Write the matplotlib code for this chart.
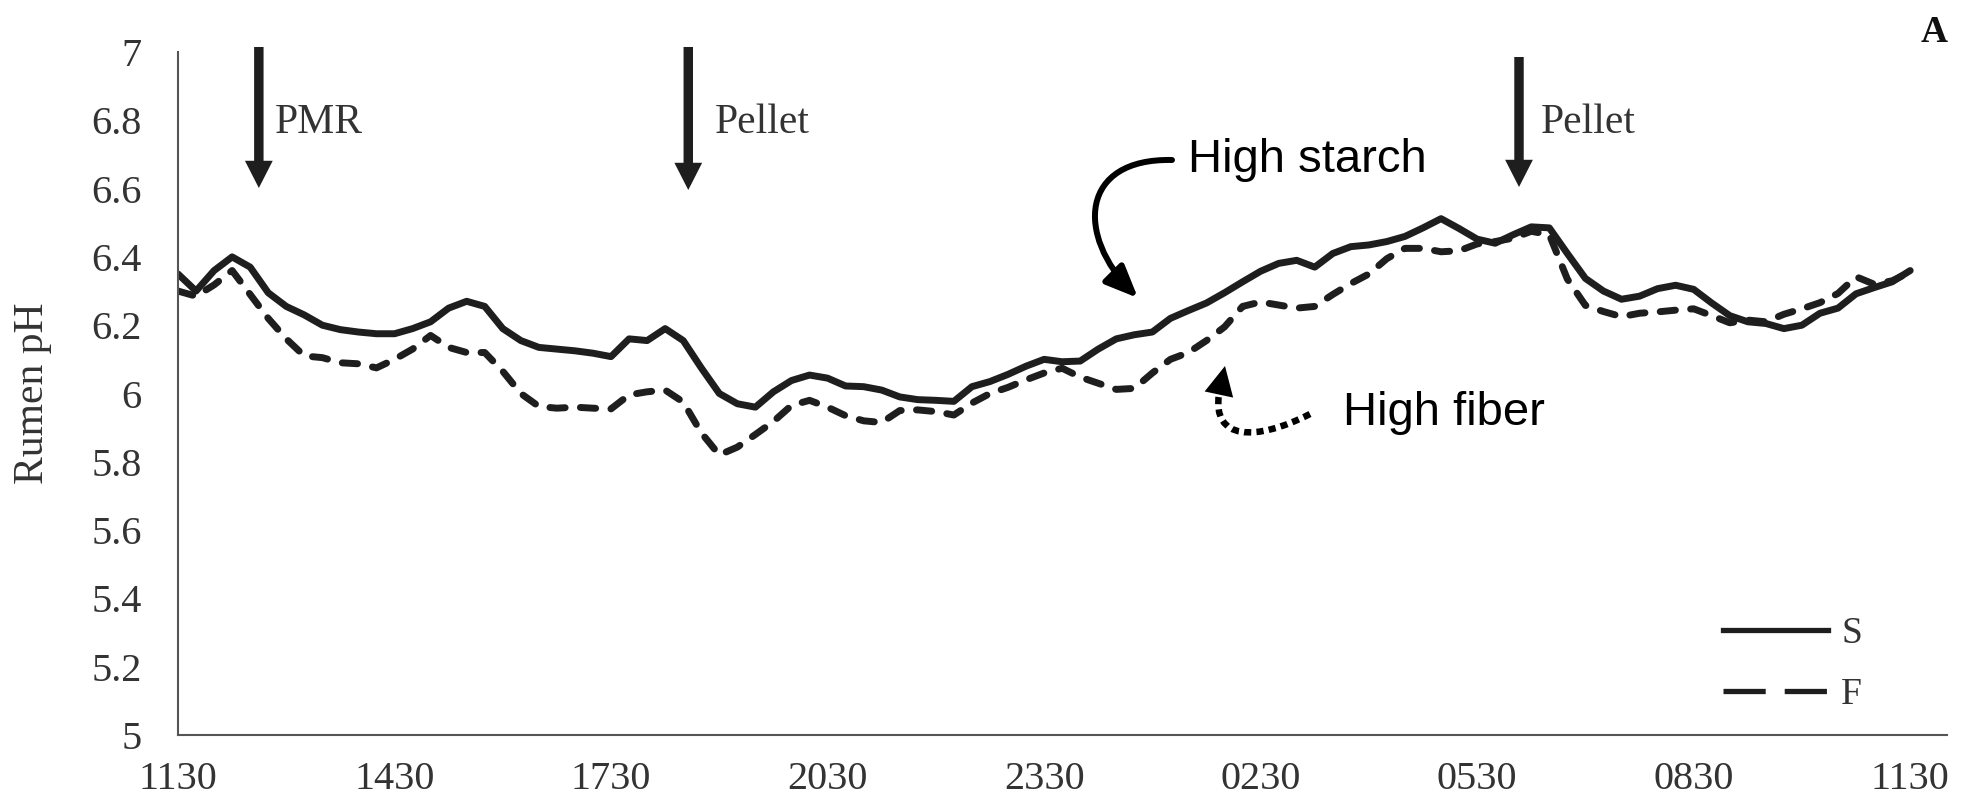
import numpy as np
import matplotlib
matplotlib.use('Agg')
import matplotlib.pyplot as plt
from matplotlib.lines import Line2D
from matplotlib.patches import FancyArrowPatch, PathPatch
from matplotlib.path import Path
from matplotlib.transforms import Affine2D, blended_transform_factory

# ---------------- data (15-min readings, 11:30 -> 11:30) ----------------
time_labels = ["1130", "1430", "1730", "2030", "2330", "0230", "0530", "0830", "1130"]
step_h = 0.25

ph_S = [6.35, 6.30, 6.36, 6.40, 6.37, 6.295, 6.255, 6.23, 6.20, 6.187, 6.18, 6.175, 6.175, 6.19, 6.21, 6.25, 6.27,
        6.255, 6.19, 6.155, 6.135, 6.13, 6.125, 6.118, 6.108, 6.16, 6.155, 6.19, 6.155, 6.075, 6.00, 5.97, 5.96,
        6.005, 6.038, 6.054, 6.045, 6.022, 6.02, 6.01, 5.99, 5.982, 5.98, 5.977, 6.02, 6.035, 6.056, 6.08, 6.10,
        6.093, 6.095, 6.13, 6.16, 6.172, 6.18, 6.22, 6.243, 6.265, 6.295, 6.327, 6.358, 6.381, 6.39, 6.37, 6.41,
        6.43, 6.435, 6.445, 6.46, 6.485, 6.512, 6.483, 6.452, 6.44, 6.465, 6.488, 6.485, 6.41, 6.337, 6.30, 6.276,
        6.285, 6.307, 6.317, 6.305, 6.265, 6.228, 6.21, 6.205, 6.19, 6.20, 6.235, 6.25, 6.292, 6.31, 6.327, 6.36]

ph_F = [6.30, 6.285, 6.318, 6.36, 6.29, 6.22, 6.16, 6.11, 6.105, 6.09, 6.087, 6.075, 6.10, 6.13, 6.17, 6.135, 6.12,
        6.12, 6.065, 6.00, 5.962, 5.957, 5.96, 5.957, 5.955, 5.996, 6.005, 6.01, 5.975, 5.885, 5.82, 5.843, 5.88,
        5.918, 5.965, 5.98, 5.96, 5.935, 5.92, 5.915, 5.95, 5.952, 5.947, 5.937, 5.972, 6.0, 6.018, 6.04, 6.06,
        6.074, 6.048, 6.03, 6.012, 6.015, 6.06, 6.10, 6.12, 6.155, 6.195, 6.255, 6.268, 6.259, 6.25, 6.255, 6.29,
        6.322, 6.35, 6.395, 6.425, 6.425, 6.415, 6.418, 6.438, 6.445, 6.455, 6.475, 6.465, 6.335, 6.258, 6.24, 6.225,
        6.235, 6.239, 6.244, 6.248, 6.228, 6.207, 6.215, 6.21, 6.232, 6.248, 6.266, 6.293, 6.342, 6.32, 6.33, 6.356]

feed_hours = [1.12, 7.07, 18.58]
feed_labels = ["PMR", "Pellet", "Pellet"]
series_labels = ["S", "F"]
y_ticks = [5, 5.2, 5.4, 5.6, 5.8, 6, 6.2, 6.4, 6.6, 6.8, 7]

# ---------------- figure ----------------
W, H = 1963, 805
fig = plt.figure(figsize=(W / 100, H / 100), dpi=100)
ax = fig.add_axes([178 / W, 1 - 735 / H, 1769 / W, 683 / H])
pix = Affine2D().scale(1, -1).translate(0, H)   # image-pixel coordinates
SERIF = "Liberation Serif"
SANS = "Liberation Sans"
INK = "#1e1e1e"
TXT = "#333333"

hours = np.arange(len(ph_S)) * step_h
ax.plot(hours, ph_S, color=INK, lw=5.0, solid_joinstyle="round", solid_capstyle="round")
ax.plot(hours, ph_F, color=INK, lw=5.0, linestyle=(0, (2.2, 2.2)), dash_capstyle="round",
        dash_joinstyle="round")

ax.set_xlim(0, 24.51)
ax.set_ylim(5, 7)
ax.set_xticks(np.arange(len(time_labels)) * 3)
ax.set_xticklabels(time_labels)
ax.set_yticks(y_ticks)
ax.set_yticklabels([f"{v:g}" for v in y_ticks])
for lab in ax.get_xticklabels() + ax.get_yticklabels():
    lab.set_fontfamily(SERIF)
    lab.set_fontsize(29)
    lab.set_color(TXT)
ax.tick_params(axis="both", length=0)
ax.tick_params(axis="y", pad=26)
ax.tick_params(axis="x", pad=19)
for side in ["top", "right"]:
    ax.spines[side].set_visible(False)
for side in ["left", "bottom"]:
    ax.spines[side].set_color("#555555")
    ax.spines[side].set_linewidth(1.5)

ax.set_ylabel("Rumen pH", fontfamily=SERIF, fontsize=30, color=TXT)
ax.yaxis.set_label_coords(-0.071, 0.5)

# legend
handles = [Line2D([], [], color=INK, lw=3.8),
           Line2D([], [], color=INK, lw=3.8, linestyle=(0, (8.0, 3.6)))]
leg = ax.legend(handles, series_labels, loc="lower right", bbox_to_anchor=(1862, 712),
                bbox_transform=pix, frameon=False, handlelength=2.8, handletextpad=0.36,
                labelspacing=0.7, borderpad=0, borderaxespad=0,
                prop={"family": SERIF, "size": 27})
for t in leg.get_texts():
    t.set_color(TXT)

# feeding arrows
blend = blended_transform_factory(ax.transData, pix)
arrow_tops = [47, 47, 57]
arrow_tips = [188, 190, 187]
text_x = [275, 715, 1541]
for h, top, tip, lab, tx in zip(feed_hours, arrow_tops, arrow_tips, feed_labels, text_x):
    fig.add_artist(FancyArrowPatch((h, top), (h, tip), transform=blend,
                                   arrowstyle="simple,head_length=0.49,head_width=0.5,tail_width=0.17",
                                   mutation_scale=40, color=INK, lw=0, shrinkA=0, shrinkB=0))
    fig.text(tx, 133, lab, transform=pix, fontfamily=SERIF, fontsize=30, color=TXT,
             ha="left", va="baseline")

fig.text(1921, 42, "A", transform=pix, fontfamily=SERIF, fontsize=27, fontweight="bold",
         color="#111111", ha="left", va="baseline")

# "High starch" annotation (solid curved arrow)
fig.text(1188, 172, "High starch", transform=pix, fontfamily=SANS, fontsize=34, color="black",
         ha="left", va="baseline")
starch_path = Path([(1172, 160), (1080, 158), (1075, 235), (1138, 298)],
                   [Path.MOVETO, Path.CURVE4, Path.CURVE4, Path.CURVE4])
fig.add_artist(FancyArrowPatch(path=starch_path, transform=pix,
                               arrowstyle="-|>,head_length=0.75,head_width=0.32",
                               mutation_scale=26, color="black", lw=4.3))

# "High fiber" annotation (dotted curved arrow)
fig.text(1343, 425, "High fiber", transform=pix, fontfamily=SANS, fontsize=34, color="black",
         ha="left", va="baseline")
fiber_path = Path([(1310, 414), (1255, 442), (1212, 440), (1219, 394)],
                  [Path.MOVETO, Path.CURVE4, Path.CURVE4, Path.CURVE4])
fig.add_artist(PathPatch(fiber_path, transform=pix, fill=False, edgecolor="black", lw=4.7,
                         linestyle=(0, (1.1, 0.8)), capstyle="butt"))
fig.add_artist(FancyArrowPatch((1219, 394), (1225, 366), transform=pix,
                               arrowstyle="simple,head_length=0.42,head_width=0.42,tail_width=0.05",
                               mutation_scale=50, color="black", lw=0, shrinkA=0, shrinkB=0))

fig.savefig("out.png", dpi=100)
